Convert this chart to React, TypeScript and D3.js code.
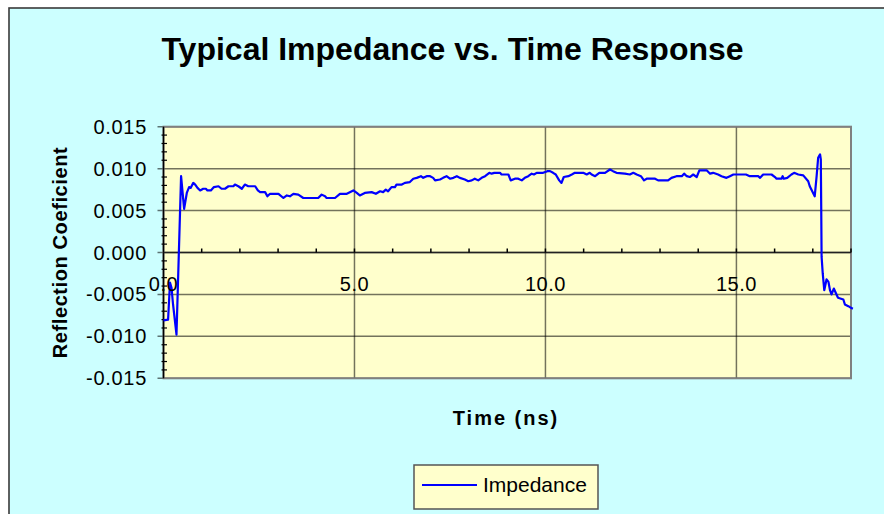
import React from "react";
import * as d3 from "d3";

const title = "Typical Impedance vs. Time Response";
const yLabel = "Reflection Coeficient";
const xLabel = "Time (ns)";
const seriesName = "Impedance";

const yTicks = [0.015, 0.01, 0.005, 0, -0.005, -0.01, -0.015];
const yTickLabels = ["0.015", "0.010", "0.005", "0.000", "-0.005", "-0.010", "-0.015"];
const xLabelTicks = [0, 5, 10, 15];
const xTickLabels = ["0.0", "5.0", "10.0", "15.0"];

const times = [
  0, 0.12, 0.17, 0.21, 0.25, 0.34, 0.46, 0.54, 0.61, 0.67, 0.71, 0.78, 0.83, 0.89, 0.96,
  1.04, 1.11, 1.15, 1.24, 1.32, 1.44, 1.52, 1.61, 1.7, 1.83, 1.87, 1.96, 2.05, 2.13, 2.22,
  2.4, 2.47, 2.53, 2.66, 2.72, 2.79, 3.01, 3.14, 3.23, 3.31, 3.4, 3.53, 3.66, 4.05, 4.14,
  4.23, 4.27, 4.49, 4.62, 4.8, 4.97, 5.06, 5.14, 5.27, 5.45, 5.56, 5.67, 5.75, 5.82, 5.88,
  5.97, 6.06, 6.1, 6.24, 6.32, 6.45, 6.54, 6.63, 6.74, 6.8, 6.89, 6.98, 7.06, 7.11, 7.24,
  7.32, 7.41, 7.5, 7.59, 7.68, 7.76, 7.89, 7.98, 8.07, 8.15, 8.24, 8.33, 8.42, 8.53, 8.59,
  8.66, 8.81, 8.85, 9.03, 9.09, 9.2, 9.29, 9.38, 9.46, 9.55, 9.64, 9.7, 9.77, 9.94, 10.05,
  10.12, 10.2, 10.27, 10.36, 10.42, 10.48, 10.6, 10.69, 10.77, 10.99, 11.08, 11.16, 11.21, 11.3, 11.41,
  11.56, 11.69, 11.77, 11.86, 12.08, 12.21, 12.3, 12.39, 12.5, 12.58, 12.65, 12.87, 12.95, 13.21, 13.3,
  13.43, 13.57, 13.63, 13.7, 13.78, 13.87, 13.96, 14.03, 14.22, 14.31, 14.39, 14.52, 14.61, 14.74, 14.83,
  14.92, 15.05, 15.14, 15.25, 15.35, 15.57, 15.62, 15.7, 15.92, 16.01, 16.05, 16.18, 16.21, 16.24, 16.33,
  16.44, 16.51, 16.62, 16.75, 16.88, 16.92, 17.05, 17.1, 17.14, 17.19, 17.21, 17.22, 17.23, 17.26, 17.3,
  17.36, 17.41, 17.45, 17.49, 17.55, 17.62, 17.66, 17.8, 17.84, 17.93, 18.0, 18.05,
];

const impedance = [
  -0.0081, -0.008, -0.0036, -0.0042, -0.0062, -0.0098, 0.0091, 0.0052, 0.0071, 0.0078, 0.0077, 0.0083, 0.0081, 0.0077, 0.0074,
  0.0076, 0.0076, 0.0074, 0.0074, 0.0078, 0.0079, 0.0076, 0.0076, 0.0079, 0.0079, 0.0081, 0.0079, 0.0076, 0.0081, 0.0079,
  0.0079, 0.0074, 0.0072, 0.0072, 0.0067, 0.007, 0.007, 0.0065, 0.0068, 0.0067, 0.007, 0.0069, 0.0065, 0.0065, 0.0069,
  0.0067, 0.0065, 0.0065, 0.007, 0.007, 0.0074, 0.0071, 0.0068, 0.0071, 0.0072, 0.007, 0.0073, 0.0072, 0.0075, 0.0073,
  0.0078, 0.0078, 0.0081, 0.0081, 0.0083, 0.0084, 0.0088, 0.0089, 0.0091, 0.0089, 0.0091, 0.0091, 0.0089, 0.0086, 0.0087,
  0.0089, 0.0091, 0.0088, 0.0089, 0.0091, 0.0089, 0.0087, 0.0085, 0.0086, 0.0088, 0.0086, 0.0089, 0.0091, 0.0095, 0.0094,
  0.0095, 0.0095, 0.0093, 0.0093, 0.0086, 0.0088, 0.0088, 0.0086, 0.0089, 0.0091, 0.0094, 0.0093, 0.0095, 0.0095, 0.0097,
  0.0097, 0.0095, 0.0093, 0.0086, 0.0083, 0.009, 0.0091, 0.0093, 0.0095, 0.0095, 0.0093, 0.0095, 0.0093, 0.0091, 0.0095,
  0.0095, 0.0099, 0.0097, 0.0095, 0.0094, 0.0093, 0.0095, 0.0093, 0.0091, 0.0086, 0.0088, 0.0088, 0.0086, 0.0086, 0.0089,
  0.0091, 0.0091, 0.0094, 0.0091, 0.009, 0.0093, 0.009, 0.0098, 0.0098, 0.0094, 0.0095, 0.0093, 0.0091, 0.0089, 0.0091,
  0.0093, 0.0093, 0.0093, 0.0093, 0.0091, 0.0091, 0.0089, 0.0093, 0.0093, 0.009, 0.0088, 0.0088, 0.0091, 0.0088, 0.0089,
  0.0093, 0.0095, 0.0093, 0.0092, 0.0085, 0.0079, 0.0067, 0.0091, 0.0113, 0.0117, 0.0111, 0.0055, -0.0005, -0.0025, -0.0045,
  -0.0032, -0.0035, -0.0045, -0.005, -0.0043, -0.005, -0.0054, -0.0056, -0.0062, -0.0064, -0.0066, -0.0067,
];

const W = 884;
const H = 514;
const plot = { left: 163.5, right: 851, top: 126.7, bottom: 378.3 };

export default function App() {
  const x = d3.scaleLinear().domain([0, 18]).range([plot.left, plot.right]);
  const y = d3.scaleLinear().domain([-0.015, 0.015]).range([plot.bottom, plot.top]);
  const data = times.map((t, i) => ({ t, v: impedance[i] }));
  const line = d3
    .line<{ t: number; v: number }>()
    .x((d) => x(d.t))
    .y((d) => y(d.v))
    .curve(d3.curveLinear);

  const minorTicks = d3.range(-15, 16).map((k) => k / 1000).filter((v) => Math.abs((v * 1000) % 5) > 1e-6);
  const xMinor = d3.range(1, 19);
  const font = "Arial, 'Liberation Sans', sans-serif";
  const gridColor = "rgba(0,0,0,0.55)";

  return (
    <svg
      width={W}
      height={H}
      style={{ position: "fixed", left: 0, top: 0, background: "#ffffff" }}
      fontFamily={font}
    >
      <rect x={9} y={8} width={W + 20} height={H + 20} fill="#CCFFFF" stroke="#3a3a3a" strokeWidth={1.6} />
      <text x={452.5} y={60} textAnchor="middle" fontSize={32} fontWeight="bold" fill="#000">
        {title}
      </text>

      <rect
        x={plot.left}
        y={plot.top}
        width={plot.right - plot.left}
        height={plot.bottom - plot.top}
        fill="#FFFFCC"
      />
      {yTicks.map((v) => (
        <line key={"g" + v} x1={plot.left - 6} x2={plot.right} y1={y(v)} y2={y(v)} stroke={gridColor} strokeWidth={1.5} />
      ))}
      {[5, 10, 15].map((t) => (
        <line key={"vg" + t} x1={x(t)} x2={x(t)} y1={plot.top} y2={plot.bottom} stroke={gridColor} strokeWidth={1.5} />
      ))}
      <rect
        x={plot.left}
        y={plot.top}
        width={plot.right - plot.left}
        height={plot.bottom - plot.top}
        fill="none"
        stroke="#808080"
        strokeWidth={2}
      />
      {/* y axis */}
      <line x1={plot.left} x2={plot.left} y1={plot.top} y2={plot.bottom} stroke="#000" strokeWidth={1.5} />
      {minorTicks.map((v) => (
        <line key={"m" + v} x1={plot.left - 2} x2={plot.left + 3.5} y1={y(v)} y2={y(v)} stroke="#000" strokeWidth={1.2} />
      ))}
      {yTicks.map((v, i) => (
        <text
          key={"yl" + v}
          x={147}
          y={y(v)}
          dy="0.35em"
          textAnchor="end"
          fontSize={20}
          letterSpacing={0.7}
          fill="#000"
        >
          {yTickLabels[i]}
        </text>
      ))}
      {/* x axis at zero */}
      <line x1={plot.left} x2={plot.right} y1={y(0)} y2={y(0)} stroke="#222" strokeWidth={1.5} />
      {xMinor.map((t) => (
        <line key={"xt" + t} x1={x(t)} x2={x(t)} y1={y(0) - 4} y2={y(0)} stroke="#000" strokeWidth={1.5} />
      ))}

      <path d={line(data) || ""} fill="none" stroke="#0000FF" strokeWidth={2.2} strokeLinejoin="round" />

      {xLabelTicks.map((t, i) => (
        <text key={"xl" + t} x={x(t)} y={291} textAnchor="middle" fontSize={20} letterSpacing={0.5} fill="#000">
          {xTickLabels[i]}
        </text>
      ))}

      <text
        transform={`translate(67,${(plot.top + plot.bottom) / 2}) rotate(-90)`}
        textAnchor="middle"
        fontSize={20}
        fontWeight="bold"
        letterSpacing={0.6}
        fill="#000"
      >
        {yLabel}
      </text>
      <text x={506} y={425} textAnchor="middle" fontSize={20} fontWeight="bold" letterSpacing={2} fill="#000">
        {xLabel}
      </text>

      <rect x={414} y={465} width={184} height={44} fill="#FFFFCC" stroke="#555" strokeWidth={1.5} />
      <line x1={422} x2={477} y1={485} y2={485} stroke="#0000FF" strokeWidth={2.2} />
      <text x={483} y={492} fontSize={21} fill="#000">
        {seriesName}
      </text>
    </svg>
  );
}
